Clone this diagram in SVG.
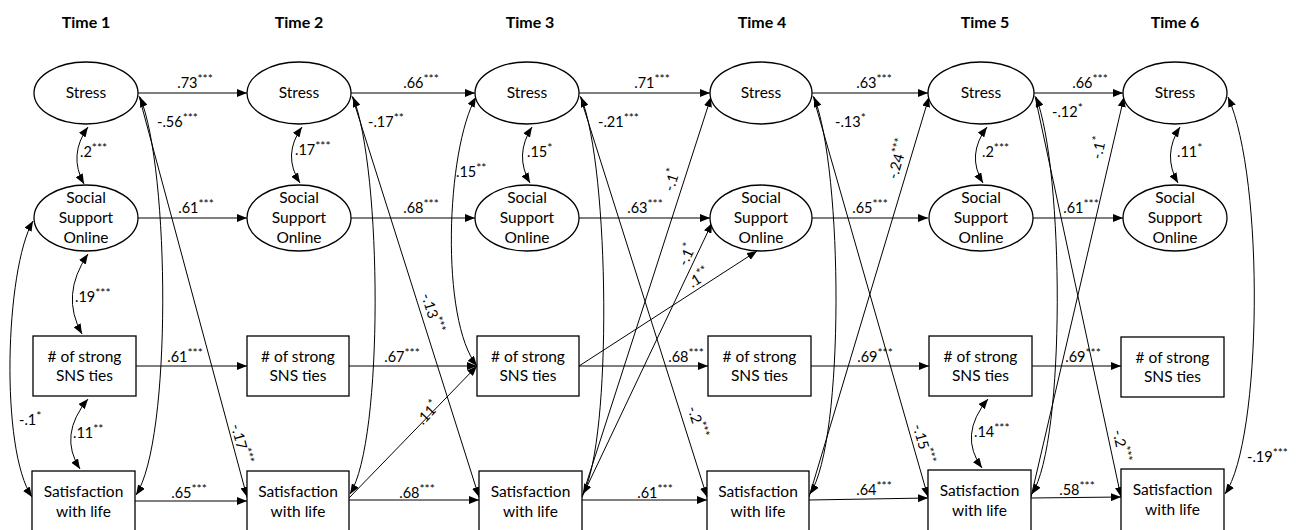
<svg xmlns="http://www.w3.org/2000/svg" width="1296" height="530" viewBox="0 0 1296 530">
<style>
.bg{fill:#fff}
.node{fill:#fff;stroke:#000;stroke-width:1.3}
.nt{font-family:Lato,"Liberation Sans",sans-serif;font-size:15.5px;fill:#000;text-anchor:middle}
.hd{font-family:Lato,"Liberation Sans",sans-serif;font-size:16px;font-weight:bold;fill:#000;text-anchor:middle}
.lb{font-family:Lato,"Liberation Sans",sans-serif;font-size:14.5px;fill:#000}
.c{text-anchor:middle}
.sup{font-size:12px}
.ar{fill:none;stroke:#000;stroke-width:1;marker-end:url(#ah)}
.dh{fill:none;stroke:#000;stroke-width:1;marker-start:url(#ah);marker-end:url(#ah)}
</style>
<defs>
<marker id="ah" viewBox="0 0 10 8" refX="10" refY="4" markerWidth="10" markerHeight="8" markerUnits="userSpaceOnUse" orient="auto-start-reverse">
<path d="M0,0 L10,4 L0,8 z" fill="#000"/>
</marker>
</defs>
<rect class="bg" x="0" y="0" width="1296" height="530"/>

<g id="headers">
<text class="hd" x="86" y="28">Time 1</text>
<text class="hd" x="299" y="28">Time 2</text>
<text class="hd" x="530" y="28">Time 3</text>
<text class="hd" x="762" y="28">Time 4</text>
<text class="hd" x="985" y="28">Time 5</text>
<text class="hd" x="1175" y="28">Time 6</text>
</g>

<g id="connectors">
<path class="ar" d="M138,93 L247,93"/>
<path class="ar" d="M351,93 L475,93"/>
<path class="ar" d="M579,93 L710,93"/>
<path class="ar" d="M812,93 L928,93"/>
<path class="ar" d="M1034,93 L1123,93"/>
<path class="ar" d="M138,218 L247,218"/>
<path class="ar" d="M351,218 L475,218"/>
<path class="ar" d="M579,218 L710,218"/>
<path class="ar" d="M812,218 L928,218"/>
<path class="ar" d="M1033,218 L1123,218"/>
<path class="ar" d="M136,366 L247,366"/>
<path class="ar" d="M349,366 L477,366"/>
<path class="ar" d="M579,366 L708,366"/>
<path class="ar" d="M811,366 L929,366"/>
<path class="ar" d="M1032,366 L1121,366"/>
<path class="ar" d="M135,501 L247,501"/>
<path class="ar" d="M349,500 L479,500"/>
<path class="ar" d="M582,500 L707,500"/>
<path class="ar" d="M809,500 L928,498"/>
<path class="ar" d="M1031,498 L1121,497"/>
<path class="ar" d="M139,96 L247,497"/>
<path class="ar" d="M352,96 L479,497"/>
<path class="ar" d="M580,96 L707,497"/>
<path class="ar" d="M813,96 L928,497"/>
<path class="ar" d="M1035,96 L1121,497"/>
<path class="ar" d="M349,498 L477,366"/>
<path class="ar" d="M582,497 L711,97"/>
<path class="ar" d="M582,497 L712,223"/>
<path class="ar" d="M579,366 L757,251"/>
<path class="ar" d="M809,497 L929,97"/>
<path class="ar" d="M1031,497 L1124,97"/>
<path class="dh" d="M140,97 C170,170 172,440 136,495"/>
<path class="dh" d="M353,97 C382,170 384,440 350,494"/>
<path class="dh" d="M581,97 C610,170 612,440 583,494"/>
<path class="dh" d="M814,97 C843,170 845,440 810,494"/>
<path class="dh" d="M1036,97 C1064,170 1066,440 1032,494"/>
<path class="dh" d="M1228,97 C1265,180 1262,440 1225,494"/>
<path class="dh" d="M33,221 C5,270 0,450 32,497"/>
<path class="dh" d="M476,97 C446,150 440,320 477,366"/>
<path class="dh" d="M88,127 Q68,155 84,184"/>
<path class="dh" d="M88,254 Q60,295 82,334"/>
<path class="dh" d="M88,399 Q58,435 80,469"/>
<path class="dh" d="M302,127 Q282,155 300,183"/>
<path class="dh" d="M532,127 Q514,155 530,183"/>
<path class="dh" d="M987,127 Q966,155 983,183"/>
<path class="dh" d="M988,399 Q958,435 982,468"/>
<path class="dh" d="M1180,127 Q1162,155 1178,183"/>
</g>

<g id="nodes">
<g id="stress1"><ellipse class="node" cx="86" cy="93" rx="52" ry="31"/><text class="nt" x="86" y="98">Stress</text></g>
<g id="stress2"><ellipse class="node" cx="299" cy="93" rx="52" ry="31"/><text class="nt" x="299" y="98">Stress</text></g>
<g id="stress3"><ellipse class="node" cx="527" cy="93" rx="52" ry="31"/><text class="nt" x="527" y="98">Stress</text></g>
<g id="stress4"><ellipse class="node" cx="761" cy="93" rx="51" ry="31"/><text class="nt" x="761" y="98">Stress</text></g>
<g id="stress5"><ellipse class="node" cx="981" cy="93" rx="53" ry="31"/><text class="nt" x="981" y="98">Stress</text></g>
<g id="stress6"><ellipse class="node" cx="1175" cy="93" rx="52" ry="31"/><text class="nt" x="1175" y="98">Stress</text></g>

<g id="sso1"><ellipse class="node" cx="86" cy="218" rx="52" ry="33"/><text class="nt" x="86" y="203">Social</text><text class="nt" x="86" y="223">Support</text><text class="nt" x="86" y="243">Online</text></g>
<g id="sso2"><ellipse class="node" cx="299" cy="218" rx="52" ry="33"/><text class="nt" x="299" y="203">Social</text><text class="nt" x="299" y="223">Support</text><text class="nt" x="299" y="243">Online</text></g>
<g id="sso3"><ellipse class="node" cx="527" cy="218" rx="52" ry="33"/><text class="nt" x="527" y="203">Social</text><text class="nt" x="527" y="223">Support</text><text class="nt" x="527" y="243">Online</text></g>
<g id="sso4"><ellipse class="node" cx="761" cy="218" rx="51" ry="33"/><text class="nt" x="761" y="203">Social</text><text class="nt" x="761" y="223">Support</text><text class="nt" x="761" y="243">Online</text></g>
<g id="sso5"><ellipse class="node" cx="981" cy="218" rx="52" ry="33"/><text class="nt" x="981" y="203">Social</text><text class="nt" x="981" y="223">Support</text><text class="nt" x="981" y="243">Online</text></g>
<g id="sso6"><ellipse class="node" cx="1175" cy="218" rx="52" ry="33"/><text class="nt" x="1175" y="203">Social</text><text class="nt" x="1175" y="223">Support</text><text class="nt" x="1175" y="243">Online</text></g>

<g id="ties1"><rect class="node" x="33" y="336" width="103" height="60"/><text class="nt" x="84.5" y="362"># of strong</text><text class="nt" x="84.5" y="381">SNS ties</text></g>
<g id="ties2"><rect class="node" x="247" y="336" width="102" height="60"/><text class="nt" x="298" y="362"># of strong</text><text class="nt" x="298" y="381">SNS ties</text></g>
<g id="ties3"><rect class="node" x="477" y="336" width="102" height="60"/><text class="nt" x="528" y="362"># of strong</text><text class="nt" x="528" y="381">SNS ties</text></g>
<g id="ties4"><rect class="node" x="708" y="336" width="103" height="60"/><text class="nt" x="759.5" y="362"># of strong</text><text class="nt" x="759.5" y="381">SNS ties</text></g>
<g id="ties5"><rect class="node" x="929" y="336" width="103" height="60"/><text class="nt" x="980.5" y="362"># of strong</text><text class="nt" x="980.5" y="381">SNS ties</text></g>
<g id="ties6"><rect class="node" x="1121" y="337" width="103" height="60"/><text class="nt" x="1172.5" y="363"># of strong</text><text class="nt" x="1172.5" y="382">SNS ties</text></g>

<g id="swl1"><rect class="node" x="32" y="471" width="103" height="62"/><text class="nt" x="83.5" y="497">Satisfaction</text><text class="nt" x="83.5" y="517">with life</text></g>
<g id="swl2"><rect class="node" x="247" y="471" width="102" height="62"/><text class="nt" x="298" y="497">Satisfaction</text><text class="nt" x="298" y="517">with life</text></g>
<g id="swl3"><rect class="node" x="479" y="471" width="103" height="62"/><text class="nt" x="530.5" y="497">Satisfaction</text><text class="nt" x="530.5" y="517">with life</text></g>
<g id="swl4"><rect class="node" x="707" y="471" width="102" height="62"/><text class="nt" x="758" y="497">Satisfaction</text><text class="nt" x="758" y="517">with life</text></g>
<g id="swl5"><rect class="node" x="928" y="470" width="103" height="62"/><text class="nt" x="979.5" y="496">Satisfaction</text><text class="nt" x="979.5" y="516">with life</text></g>
<g id="swl6"><rect class="node" x="1121" y="469" width="103" height="62"/><text class="nt" x="1172.5" y="495">Satisfaction</text><text class="nt" x="1172.5" y="515">with life</text></g>
</g>

<g id="labels">
<text class="lb c" x="195" y="88">.73<tspan class="sup" dy="-5">***</tspan></text>
<text class="lb c" x="196" y="213">.61<tspan class="sup" dy="-5">***</tspan></text>
<text class="lb c" x="185" y="362">.61<tspan class="sup" dy="-5">***</tspan></text>
<text class="lb c" x="189" y="498">.65<tspan class="sup" dy="-5">***</tspan></text>
<text class="lb c" x="421" y="88">.66<tspan class="sup" dy="-5">***</tspan></text>
<text class="lb c" x="421" y="213">.68<tspan class="sup" dy="-5">***</tspan></text>
<text class="lb c" x="402" y="362">.67<tspan class="sup" dy="-5">***</tspan></text>
<text class="lb c" x="417" y="498">.68<tspan class="sup" dy="-5">***</tspan></text>
<text class="lb c" x="652" y="88">.71<tspan class="sup" dy="-5">***</tspan></text>
<text class="lb c" x="645" y="213">.63<tspan class="sup" dy="-5">***</tspan></text>
<text class="lb c" x="686" y="362">.68<tspan class="sup" dy="-5">***</tspan></text>
<text class="lb c" x="655" y="498">.61<tspan class="sup" dy="-5">***</tspan></text>
<text class="lb c" x="874" y="88">.63<tspan class="sup" dy="-5">***</tspan></text>
<text class="lb c" x="870" y="213">.65<tspan class="sup" dy="-5">***</tspan></text>
<text class="lb c" x="875" y="362">.69<tspan class="sup" dy="-5">***</tspan></text>
<text class="lb c" x="874" y="495">.64<tspan class="sup" dy="-5">***</tspan></text>
<text class="lb c" x="1090" y="88">.66<tspan class="sup" dy="-5">***</tspan></text>
<text class="lb c" x="1081" y="213">.61<tspan class="sup" dy="-5">***</tspan></text>
<text class="lb c" x="1083" y="362">.69<tspan class="sup" dy="-5">***</tspan></text>
<text class="lb c" x="1077" y="495">.58<tspan class="sup" dy="-5">***</tspan></text>
<text class="lb" x="80" y="157">.2<tspan class="sup" dy="-5">***</tspan></text>
<text class="lb" x="75" y="302">.19<tspan class="sup" dy="-5">***</tspan></text>
<text class="lb" x="73" y="438">.11<tspan class="sup" dy="-5">**</tspan></text>
<text class="lb" x="295" y="155">.17<tspan class="sup" dy="-5">***</tspan></text>
<text class="lb" x="527" y="157">.15<tspan class="sup" dy="-5">*</tspan></text>
<text class="lb" x="982" y="157">.2<tspan class="sup" dy="-5">***</tspan></text>
<text class="lb" x="974" y="437">.14<tspan class="sup" dy="-5">***</tspan></text>
<text class="lb" x="1177" y="157">.11<tspan class="sup" dy="-5">*</tspan></text>
<text class="lb" x="157" y="127">-.56<tspan class="sup" dy="-5">***</tspan></text>
<text class="lb" x="368" y="127">-.17<tspan class="sup" dy="-5">**</tspan></text>
<text class="lb" x="598" y="127">-.21<tspan class="sup" dy="-5">***</tspan></text>
<text class="lb" x="835" y="127">-.13<tspan class="sup" dy="-5">*</tspan></text>
<text class="lb" x="1052" y="117">-.12<tspan class="sup" dy="-5">*</tspan></text>
<text class="lb" x="1247" y="462">-.19<tspan class="sup" dy="-5">***</tspan></text>
<text class="lb" x="19" y="425">-.1<tspan class="sup" dy="-5">*</tspan></text>
<text class="lb" x="456" y="177">.15<tspan class="sup" dy="-5">**</tspan></text>
<text class="lb c" x="241" y="449" transform="rotate(75 241 444)">-.17<tspan class="sup" dy="-5">***</tspan></text>
<text class="lb c" x="432" y="318" transform="rotate(72.5 432 313)">-.13<tspan class="sup" dy="-5">***</tspan></text>
<text class="lb c" x="428" y="418" transform="rotate(-46 428 413)">.11<tspan class="sup" dy="-5">*</tspan></text>
<text class="lb c" x="697" y="427" transform="rotate(72.5 697 422)">-.2<tspan class="sup" dy="-5">***</tspan></text>
<text class="lb c" x="672" y="185" transform="rotate(-72 672 180)">-.1<tspan class="sup" dy="-5">*</tspan></text>
<text class="lb c" x="687" y="260" transform="rotate(-65 687 255)">-.1<tspan class="sup" dy="-5">*</tspan></text>
<text class="lb c" x="699" y="283" transform="rotate(-32 699 278)">.1<tspan class="sup" dy="-5">**</tspan></text>
<text class="lb c" x="898" y="164" transform="rotate(-74 898 159)">-.24<tspan class="sup" dy="-5">***</tspan></text>
<text class="lb c" x="923" y="449" transform="rotate(74 923 444)">-.15<tspan class="sup" dy="-5">***</tspan></text>
<text class="lb c" x="1099" y="153" transform="rotate(-77 1099 148)">-.1<tspan class="sup" dy="-5">*</tspan></text>
<text class="lb c" x="1121" y="451" transform="rotate(78 1121 446)">-.2<tspan class="sup" dy="-5">***</tspan></text>
</g>
</svg>
